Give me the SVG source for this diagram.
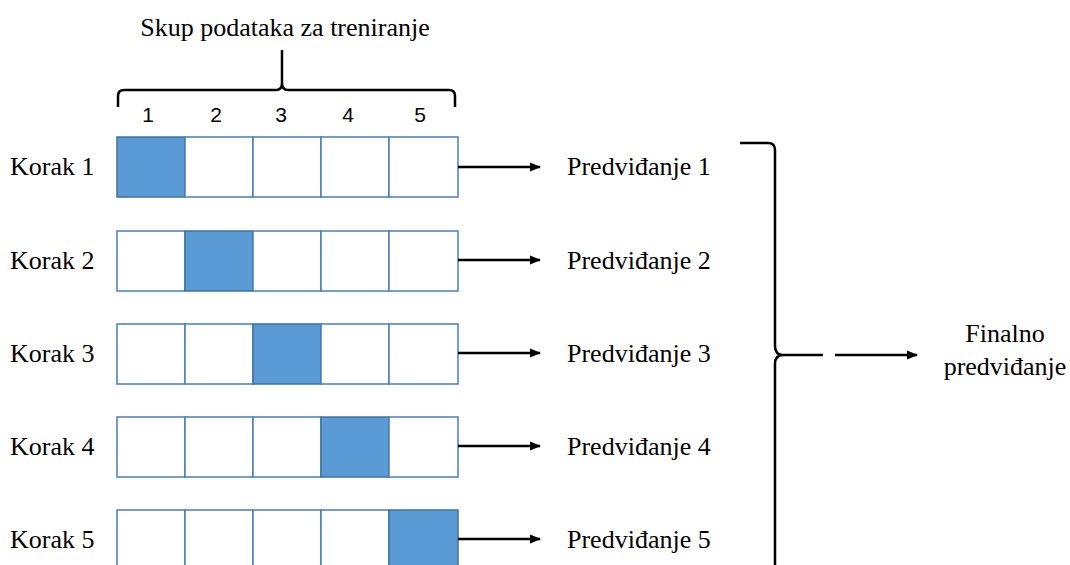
<svg xmlns="http://www.w3.org/2000/svg" width="1070" height="565" viewBox="0 0 1070 565">
<style>
.t{font-family:"Liberation Serif","Times New Roman",serif;font-size:26px;fill:#000}
.n{font-family:"Liberation Sans",Arial,sans-serif;font-size:21px;fill:#000}
.c{fill:#fff;stroke:#4a7ebb;stroke-width:1.5}
.f{fill:#5b9bd5;stroke:#41719c;stroke-width:1.5}
.br{fill:none;stroke:#000;stroke-width:2.5}
.ar{stroke:#000;stroke-width:2.5;fill:none}
</style>
<defs>
<marker id="ah" markerWidth="12" markerHeight="12" refX="10" refY="6" orient="auto" markerUnits="userSpaceOnUse">
<path d="M0,1.5 L11,6 L0,10.5 Z" fill="#000"/>
</marker>
</defs>
<rect width="1070" height="565" fill="#fff"/>
<g id="header">
<text class="t" x="285" y="36" text-anchor="middle">Skup podataka za treniranje</text>
<path class="br" d="M118,107 L118,96 Q118,90 124,90 L276,90 Q282,90 282,83 L282,50 M282,83 Q282,90 288,90 L449,90 Q455,90 455,96 L455,107"/>
<text class="n" x="148" y="122" text-anchor="middle">1</text>
<text class="n" x="216" y="122" text-anchor="middle">2</text>
<text class="n" x="281" y="122" text-anchor="middle">3</text>
<text class="n" x="348" y="122" text-anchor="middle">4</text>
<text class="n" x="420" y="122" text-anchor="middle">5</text>
</g>
<g id="row1">
<text class="t" x="10" y="175">Korak 1</text>
<rect class="f" x="117" y="137" width="68" height="60"/>
<rect class="c" x="185" y="137" width="68" height="60"/>
<rect class="c" x="253" y="137" width="68" height="60"/>
<rect class="c" x="321" y="137" width="68" height="60"/>
<rect class="c" x="389" y="137" width="69" height="60"/>
<text class="t" x="567" y="175">Predviđanje 1</text>
</g>
<g id="row2">
<text class="t" x="10" y="269">Korak 2</text>
<rect class="c" x="117" y="231" width="68" height="60"/>
<rect class="f" x="185" y="231" width="68" height="60"/>
<rect class="c" x="253" y="231" width="68" height="60"/>
<rect class="c" x="321" y="231" width="68" height="60"/>
<rect class="c" x="389" y="231" width="69" height="60"/>
<text class="t" x="567" y="269">Predviđanje 2</text>
</g>
<g id="row3">
<text class="t" x="10" y="362">Korak 3</text>
<rect class="c" x="117" y="324" width="68" height="60"/>
<rect class="c" x="185" y="324" width="68" height="60"/>
<rect class="f" x="253" y="324" width="68" height="60"/>
<rect class="c" x="321" y="324" width="68" height="60"/>
<rect class="c" x="389" y="324" width="69" height="60"/>
<text class="t" x="567" y="362">Predviđanje 3</text>
</g>
<g id="row4">
<text class="t" x="10" y="455">Korak 4</text>
<rect class="c" x="117" y="417" width="68" height="60"/>
<rect class="c" x="185" y="417" width="68" height="60"/>
<rect class="c" x="253" y="417" width="68" height="60"/>
<rect class="f" x="321" y="417" width="68" height="60"/>
<rect class="c" x="389" y="417" width="69" height="60"/>
<text class="t" x="567" y="455">Predviđanje 4</text>
</g>
<g id="row5">
<text class="t" x="10" y="548">Korak 5</text>
<rect class="c" x="117" y="510" width="68" height="60"/>
<rect class="c" x="185" y="510" width="68" height="60"/>
<rect class="c" x="253" y="510" width="68" height="60"/>
<rect class="c" x="321" y="510" width="68" height="60"/>
<rect class="f" x="389" y="510" width="69" height="60"/>
<text class="t" x="567" y="548">Predviđanje 5</text>
</g>
<g id="final">
<text class="t" x="1005" y="342" text-anchor="middle">Finalno</text>
<text class="t" x="1005" y="375" text-anchor="middle">predviđanje</text>
</g>
<g id="connectors">
<line class="ar" x1="458" y1="167" x2="540" y2="167" marker-end="url(#ah)"/>
<line class="ar" x1="458" y1="260" x2="540" y2="260" marker-end="url(#ah)"/>
<line class="ar" x1="458" y1="353" x2="540" y2="353" marker-end="url(#ah)"/>
<line class="ar" x1="458" y1="446" x2="540" y2="446" marker-end="url(#ah)"/>
<line class="ar" x1="458" y1="539" x2="540" y2="539" marker-end="url(#ah)"/>
<path class="br" d="M740,143 L768,143 Q775,143 775,150 L775,346 Q775,355 783,355 M775,565 L775,364 Q775,355 783,355"/>
<line class="ar" x1="783" y1="355" x2="823" y2="355"/>
<line class="ar" x1="835" y1="355" x2="917" y2="355" marker-end="url(#ah)"/>
</g>
</svg>
